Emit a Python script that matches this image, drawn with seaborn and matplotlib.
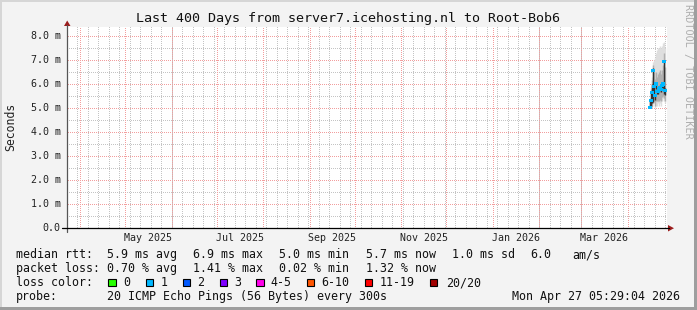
import numpy as np
import pandas as pd
import matplotlib
matplotlib.use("Agg")
import matplotlib.pyplot as plt
import matplotlib.dates as mdates
from matplotlib.patches import Rectangle, Polygon
from matplotlib.lines import Line2D
import seaborn as sns

# ---------------- data ----------------
title = "Last 400 Days from server7.icehosting.nl to Root-Bob6"
end_time = "2026-04-27 05:29:04"
span_days = 400
y_ticks = [0, 1, 2, 3, 4, 5, 6, 7, 8]
y_tick_labels = ["0.0", "1.0 m", "2.0 m", "3.0 m", "4.0 m", "5.0 m", "6.0 m", "7.0 m", "8.0 m"]
x_labels = ["May 2025", "Jul 2025", "Sep 2025", "Nov 2025", "Jan 2026", "Mar 2026"]
x_label_months = ["2025-05-01", "2025-07-01", "2025-09-01", "2025-11-01", "2026-01-01", "2026-03-01"]

times = ["2026-04-15 21:29", "2026-04-16 13:29", "2026-04-17 05:29", "2026-04-17 21:29",
         "2026-04-18 13:29", "2026-04-19 05:29", "2026-04-19 21:29", "2026-04-20 13:29",
         "2026-04-21 05:29", "2026-04-21 21:29", "2026-04-22 13:29", "2026-04-23 05:29",
         "2026-04-23 21:29", "2026-04-24 13:29", "2026-04-25 05:29", "2026-04-25 21:29"]
median_ms = [5.03, 5.30, 5.64, 6.58, 5.90, 5.51, 6.00, 5.70, 5.68, 5.80, 5.86, 5.78, 5.92, 6.00, 6.92, 5.72]
smoke_min = [4.98, 5.00, 5.05, 5.20, 5.20, 5.00, 5.10, 5.10, 5.20, 5.10, 5.20, 5.10, 5.30, 5.40, 5.30, 5.20]
smoke_max = [5.40, 5.90, 6.30, 6.90, 7.00, 7.10, 7.30, 7.40, 7.50, 7.50, 7.60, 7.50, 7.60, 7.70, 7.75, 7.50]
mid_lo = [4.99, 5.02, 5.10, 5.22, 5.30, 5.10, 5.30, 5.30, 5.30, 5.30, 5.35, 5.30, 5.45, 5.50, 5.40, 5.30]
mid_hi = [5.35, 5.80, 6.15, 6.80, 6.50, 6.20, 6.50, 6.30, 6.40, 6.50, 6.60, 6.40, 6.60, 6.80, 7.30, 6.70]
core_lo = [5.00, 5.05, 5.20, 5.25, 5.60, 5.35, 5.80, 5.60, 5.60, 5.65, 5.75, 5.65, 5.80, 5.85, 5.60, 5.55]
core_hi = [5.30, 5.65, 6.00, 6.65, 5.95, 5.60, 6.05, 5.80, 5.75, 5.90, 5.95, 5.85, 6.00, 6.10, 6.95, 5.85]
loss_bin = ["1", "1", "1", "1", "1", "1", "1", "1", "1", "1", "1", "1", "1", "1", "1", "1"]

loss_labels = ["0", "1", "2", "3", "4-5", "6-10", "11-19", "20/20"]
loss_colors = ["#26ff00", "#00b8ff", "#0059ff", "#7e00ff", "#ff00ea", "#ff5500", "#ff0000", "#a10000"]

rtt_label = "median rtt:"
rtt_items = ["5.9 ms avg", "6.9 ms max", "5.0 ms min", "5.7 ms now", "1.0 ms sd", "6.0", "am/s"]
loss_label = "packet loss:"
loss_items = ["0.70 % avg", "1.41 % max", "0.02 % min", "1.32 % now"]
probe_label = "probe:"
probe_text = "20 ICMP Echo Pings (56 Bytes) every 300s"
stamp = "Mon Apr 27 05:29:04 2026"
watermark = "RRDTOOL / TOBI OETIKER"

# ---------------- figure ----------------
W, H = 697, 310
sns.set_theme(style="white")
plt.rcParams["font.family"] = ["DejaVu Sans Mono", "DejaVu Sans"]

fig = plt.figure(figsize=(W / 100, H / 100), dpi=100, facecolor="#f3f3f3")

def fp(x, y):
    return (x / W, 1 - y / H)

AX_L, AX_R, AX_T, AX_B = 67, 667, 27, 228
PW, PH = AX_R - AX_L, AX_B - AX_T
ax = fig.add_axes([AX_L / W, 1 - AX_B / H, PW / W, PH / H])
ax.set_facecolor("white")
for s in ax.spines.values():
    s.set_visible(False)

t_end = pd.Timestamp(end_time)
t_start = t_end - pd.Timedelta(days=span_days)
ymax = PH / 24.0
ax.set_xlim(t_start, t_end)
ax.set_ylim(0, ymax)

# ---- pixel-exact dotted grid (rrdtool style), drawn as a background image ----
grid = np.ones((PH, PW, 3))
minor_c = np.array([196, 196, 196]) / 255
major_c = np.array([242, 158, 158]) / 255

def col_of(d):
    return int(round((pd.Timestamp(d) - t_start) / pd.Timedelta(days=span_days) * PW))

def row_of(v):
    return int(round(PH - v * 24))

for d in pd.date_range(t_start.normalize(), t_end, freq="W-SUN"):
    c = col_of(d)
    if 0 <= c < PW:
        grid[0::2, c] = minor_c
for v in np.arange(0.5, ymax, 1.0):
    r = row_of(v)
    if 0 <= r < PH:
        grid[r, 0::2] = minor_c
for d in pd.date_range("2025-04-01", t_end, freq="MS"):
    c = col_of(d)
    if 0 <= c < PW:
        grid[1::2, c] = major_c
for v in y_ticks[1:]:
    r = row_of(v)
    if 0 <= r < PH:
        grid[r, 1::2] = major_c
x0n, x1n = mdates.date2num(t_start), mdates.date2num(t_end)
ax.imshow(grid, extent=(x0n, x1n, 0, ymax), aspect="auto", interpolation="nearest",
          zorder=0, origin="upper")

# smoke
tt = pd.to_datetime(times)
ax.vlines(tt, smoke_min, smoke_max, color="#dedede", lw=1.0, zorder=2)
ax.vlines(tt, mid_lo, mid_hi, color="#b0b0b0", lw=1.0, zorder=3)
ax.vlines(tt, core_lo, core_hi, color="#333333", lw=1.0, zorder=4)

df = pd.DataFrame({"t": tt, "median": median_ms, "loss": loss_bin})
sns.scatterplot(data=df, x="t", y="median", hue="loss",
                palette=dict(zip(loss_labels, loss_colors)), marker="s", s=5,
                linewidth=0, legend=False, ax=ax, zorder=5)
ax.set_xlim(t_start, t_end)
ax.set_ylim(0, ymax)
ax.set_xlabel("")
ax.set_ylabel("")
ax.set_xticks([])
ax.set_yticks([])

# axis lines and arrows
fig.add_artist(Line2D([fp(67, 0)[0]] * 2, [fp(0, 232)[1], fp(0, 25)[1]], color="#555555", lw=0.9))
fig.add_artist(Line2D([fp(62, 0)[0], fp(669, 0)[0]], [fp(0, 228)[1]] * 2, color="#000000", lw=0.9))
fig.add_artist(Polygon([fp(64, 26), fp(70.5, 26), fp(67.2, 20.5)], closed=True,
                       transform=fig.transFigure, color="#9b1c1c", lw=0))
fig.add_artist(Polygon([fp(668, 225), fp(668, 231.5), fp(674, 228.2)], closed=True,
                       transform=fig.transFigure, color="#9b1c1c", lw=0))

# y tick labels
for v, lab in zip(y_ticks, y_tick_labels):
    ypx = AX_B - v * 24
    fig.text(*fp(60.5, ypx), lab, ha="right", va="center", fontsize=7.2, color="#222222")

# x tick labels (centered mid-month)
for m, lab in zip(x_label_months, x_labels):
    m0 = pd.Timestamp(m)
    mid = m0 + (m0 + pd.offsets.MonthBegin(1) - m0) / 2
    ax.text(mid, -10.3 / 24, lab, ha="center", va="center", fontsize=7.2,
            color="#222222", clip_on=False)

# title, y label, watermark
fig.text(*fp(348.5, 18.5), title, ha="center", va="center", fontsize=9.6, color="#111111")
fig.text(*fp(10.5, 127), "Seconds", ha="center", va="center", rotation=90, fontsize=8.3, color="#222222")
fig.text(*fp(688, 4), watermark, ha="center", va="top", rotation=270, fontsize=7.3, color="#aeaeae")

# legend
LF = 8.4
fig.text(*fp(16, 254.5), rtt_label, ha="left", va="center", fontsize=LF, color="#111111")
for x, s in zip([107.3, 193.3, 279.3, 365.7, 451.7, 530.0, 572.7], rtt_items):
    fig.text(*fp(x, 254.5), s, ha="left", va="center", fontsize=LF, color="#111111")
fig.text(*fp(16, 268.5), loss_label, ha="left", va="center", fontsize=LF, color="#111111")
for x, s in zip([107.3, 193.3, 279.3, 365.7], loss_items):
    fig.text(*fp(x, 268.5), s, ha="left", va="center", fontsize=LF, color="#111111")
fig.text(*fp(16, 282.5), "loss color:", ha="left", va="center", fontsize=LF, color="#111111")
box_x = [108.3, 145.7, 182.7, 219.7, 256.3, 307.0, 365.0, 429.7]
lab_x = [123.3, 160.7, 197.3, 234.3, 270.7, 321.7, 380.0, 445.7]
for bx, lx, lab, c in zip(box_x, lab_x, loss_labels, loss_colors):
    x0, y0 = fp(bx, 286)
    fig.add_artist(Rectangle((x0, y0), 7.3 / W, 7.5 / H, transform=fig.transFigure,
                             facecolor=c, edgecolor="black", lw=0.8))
    fig.text(*fp(lx, 282.5), lab, ha="left", va="center", fontsize=LF, color="#111111")
fig.text(*fp(16, 296.5), probe_label, ha="left", va="center", fontsize=LF, color="#111111")
fig.text(*fp(107.3, 296.5), probe_text, ha="left", va="center", fontsize=LF, color="#111111")
fig.text(*fp(680.5, 296.5), stamp, ha="right", va="center", fontsize=LF, color="#111111")

# 3D frame
fig.add_artist(Rectangle(fp(0, 310), 2 / W, 1, transform=fig.transFigure, color="#d6d6d6", lw=0))
fig.add_artist(Rectangle(fp(0, 2), 1, 2 / H, transform=fig.transFigure, color="#d6d6d6", lw=0))
fig.add_artist(Rectangle(fp(694, 310), 3 / W, 1, transform=fig.transFigure, color="#9e9e9e", lw=0))
fig.add_artist(Rectangle(fp(0, 310), 1, 3 / H, transform=fig.transFigure, color="#9e9e9e", lw=0))

fig.savefig("out.png", dpi=100, facecolor=fig.get_facecolor())
